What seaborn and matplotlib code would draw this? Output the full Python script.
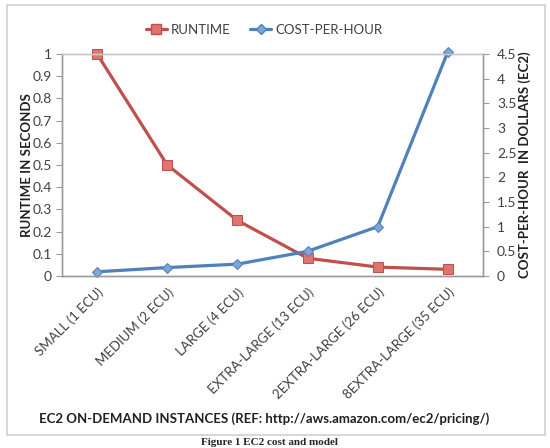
import pandas as pd
import matplotlib.pyplot as plt
import seaborn as sns
from matplotlib.patches import Rectangle
from matplotlib.lines import Line2D

# ------------------------------------------------------------
# Datos
# ------------------------------------------------------------

instancias = [
    "SMALL (1 ECU)",
    "MEDIUM (2 ECU)",
    "LARGE (4 ECU)",
    "EXTRA-LARGE (13 ECU)",
    "2EXTRA-LARGE (26 ECU)",
    "8EXTRA-LARGE (35 ECU)",
]
runtime = [1.0, 0.5, 0.25, 0.08, 0.04, 0.03]
cost_per_hour = [0.085, 0.17, 0.24, 0.5, 1.0, 4.55]

left_ticks = [0, 0.1, 0.2, 0.3, 0.4, 0.5, 0.6, 0.7, 0.8, 0.9, 1]
right_ticks = [0, 0.5, 1, 1.5, 2, 2.5, 3, 3.5, 4, 4.5]

df = pd.DataFrame({
    "pos": range(len(instancias)),
    "instancia": instancias,
    "runtime": runtime,
    "cost": cost_per_hour,
})

RED = "#C0504D"
BLUE = "#4F81BD"
GREY = "#9A9A9A"
TXT = "#404040"

sns.set_style("white")
plt.rcParams["font.family"] = ["Lato", "DejaVu Sans"]

fig = plt.figure(figsize=(5.5, 4.48), dpi=100)

# marco del area del grafico
fig.patches.append(Rectangle((0.013, 0.03), 0.978, 0.959, transform=fig.transFigure,
                             fill=False, edgecolor="#D0D0D0", linewidth=1.2))

ax = fig.add_axes([0.1127, 0.384, 0.7655, 0.4955])
ax2 = ax.twinx()

sns.lineplot(data=df, x="pos", y="runtime", ax=ax, color=RED, linewidth=2.3,
             marker="s", markersize=7, markeredgecolor=RED, markerfacecolor="#E07470",
             clip_on=False)
sns.lineplot(data=df, x="pos", y="cost", ax=ax2, color=BLUE, linewidth=2.3,
             marker="D", markersize=5, markeredgecolor=BLUE, markerfacecolor="#7FA6D6",
             clip_on=False)

ax.set_xlim(-0.5, len(instancias) - 0.5)
ax.set_ylim(0, 1)
ax2.set_ylim(0, 4.5)

ax.set_yticks(left_ticks)
ax.set_yticklabels([f"{t:g}" for t in left_ticks], fontsize=10, color=TXT)
ax2.set_yticks(right_ticks)
ax2.set_yticklabels([f"{t:g}" for t in right_ticks], fontsize=10, color=TXT)

ax.set_xticks(df["pos"])
ax.set_xticklabels(instancias, rotation=45, ha="right", rotation_mode="anchor",
                   fontsize=9.5, color=TXT)
ax.set_xticks([i - 0.5 for i in range(len(instancias) + 1)], minor=True)
ax.tick_params(axis="x", which="major", length=0, pad=7)
ax.tick_params(axis="x", which="minor", length=4, color=GREY, direction="out")
ax.tick_params(axis="y", length=4, color=GREY, direction="out", left=True)
ax2.tick_params(axis="y", length=4, color=GREY, direction="out", right=True, pad=6)

for a in (ax, ax2):
    for s in a.spines.values():
        s.set_color(GREY)
        s.set_linewidth(1)
    a.spines["top"].set_color("#C8C8C8")

ax.set_xlabel("EC2 ON-DEMAND INSTANCES (REF: http://aws.amazon.com/ec2/pricing/)",
              fontsize=9.5, fontweight="bold", color="#202020")
ax.xaxis.set_label_coords(0.48, -0.615)
ax.set_ylabel("RUNTIME IN SECONDS", fontsize=9.5, fontweight="bold", color="#202020")
ax.yaxis.set_label_coords(-0.068, 0.5)
ax2.set_ylabel("COST-PER-HOUR  IN DOLLARS (EC2)", fontsize=9.5, fontweight="bold",
               color="#202020", rotation=90)
ax2.yaxis.set_label_coords(1.085, 0.5)

# leyenda arriba
handles = [
    Line2D([], [], color=RED, linewidth=2.3, marker="s", markersize=7,
           markerfacecolor="#E07470", markeredgecolor=RED),
    Line2D([], [], color=BLUE, linewidth=2.3, marker="D", markersize=5,
           markerfacecolor="#7FA6D6", markeredgecolor=BLUE),
]
fig.legend(handles, ["RUNTIME", "COST-PER-HOUR"], loc="center", ncol=2,
           bbox_to_anchor=(0.48, 0.933), frameon=False, fontsize=9.5,
           handlelength=1.6, handletextpad=0.3, columnspacing=1.5,
           labelcolor=TXT)

# pie de figura
fig.text(0.49, 0.002, "Figure 1 EC2 cost and model", ha="center", va="bottom",
         fontsize=8, fontweight="bold", family=["Liberation Serif", "DejaVu Serif"])

fig.savefig("out.png", dpi=100)
